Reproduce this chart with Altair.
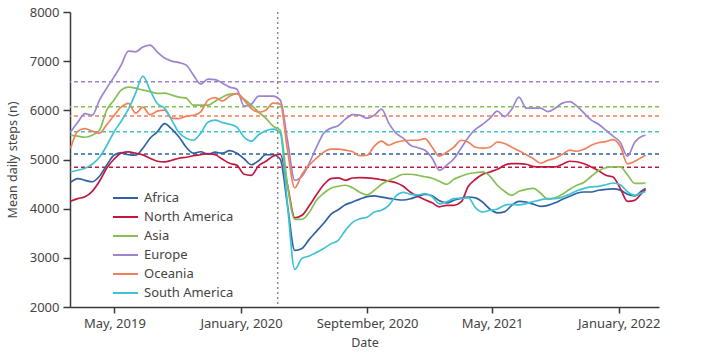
import altair as alt
import pandas as pd

# Sampling dates (every 14 days) plus last observation
dates = list(pd.date_range("2019-02-05", periods=80, freq="14D").strftime("%Y-%m-%dT00:00:00")) + ["2022-02-22T00:00:00"]

regions = ["Africa", "North America", "Asia", "Europe", "Oceania", "South America"]
colors = ["#2f62a3", "#c2183f", "#86bf55", "#9d84d0", "#f2805a", "#3fc3d2"]

africa = [4537, 4612, 4577, 4547, 4659, 4883, 5087, 5138, 5097, 5087,
          5230, 5433, 5561, 5728, 5616, 5459, 5250, 5128, 5158, 5107,
          5148, 5128, 5179, 5128, 5015, 4893, 4974, 5097, 5097, 5005,
          4068, 3152, 3192, 3376, 3539, 3702, 3885, 3977, 4079, 4136,
          4195, 4245, 4262, 4235, 4211, 4187, 4176, 4201, 4251, 4292,
          4262, 4160, 4119, 4170, 4215, 4237, 4221, 4129, 3987, 3916,
          3936, 4068, 4150, 4136, 4089, 4048, 4068, 4119, 4191, 4251,
          4313, 4339, 4339, 4374, 4394, 4404, 4378, 4292, 4262, 4364, 4414]

north_america = [4150, 4205, 4241, 4353, 4557, 4822, 5005, 5128, 5154, 5128,
                 5093, 5026, 4964, 4950, 4985, 5026, 5046, 5077, 5097, 5121,
                 5097, 5005, 4924, 4883, 4700, 4679, 4873, 4964, 5066, 5107,
                 4476, 3814, 3865, 4058, 4282, 4486, 4612, 4628, 4577, 4624,
                 4632, 4626, 4612, 4588, 4561, 4527, 4455, 4333, 4251, 4180,
                 4119, 4038, 4068, 4068, 4136, 4455, 4598, 4700, 4747, 4801,
                 4883, 4917, 4917, 4903, 4856, 4849, 4849, 4849, 4903, 4964,
                 4954, 4913, 4849, 4771, 4679, 4645, 4414, 4150, 4170, 4323, 4394]

asia = [5494, 5474, 5453, 5494, 5596, 6003, 6207, 6411, 6472, 6451,
        6411, 6380, 6343, 6350, 6309, 6268, 6248, 6105, 6105, 6105,
        6187, 6268, 6329, 6340, 6227, 6105, 5963, 5840, 5677, 5596,
        4476, 3783, 3783, 3925, 4170, 4313, 4414, 4455, 4476, 4425,
        4333, 4282, 4374, 4496, 4577, 4639, 4700, 4700, 4679, 4649,
        4618, 4557, 4496, 4598, 4659, 4710, 4730, 4747, 4659, 4476,
        4353, 4272, 4353, 4394, 4414, 4313, 4191, 4221, 4292, 4394,
        4476, 4537, 4659, 4771, 4832, 4849, 4849, 4689, 4516, 4516, 4527]

europe = [5561, 5759, 5932, 5901, 6207, 6451, 6676, 6920, 7205, 7191,
          7287, 7327, 7185, 7063, 7001, 6971, 6920, 6716, 6533, 6635,
          6625, 6553, 6472, 6431, 6085, 6126, 6288, 6288, 6288, 6207,
          5392, 4577, 4659, 4924, 5250, 5535, 5637, 5688, 5820, 5912,
          5901, 5840, 5901, 6024, 5739, 5535, 5433, 5290, 5240, 5189,
          5026, 4781, 4883, 5015, 5230, 5453, 5616, 5718, 5840, 5983,
          5871, 6024, 6268, 6044, 6044, 6044, 5973, 6044, 6146, 6176,
          6085, 5942, 5800, 5718, 5596, 5474, 5352, 5067, 5352, 5474, 5494]

oceania = [5223, 5576, 5627, 5576, 5535, 5708, 5891, 6064, 6140, 5942,
           6064, 5912, 5983, 6003, 5840, 5830, 5881, 5901, 5969, 6207,
           6258, 6187, 6288, 6340, 6207, 6034, 5963, 6003, 6146, 6126,
           5189, 4424, 4700, 4883, 5026, 5148, 5209, 5209, 5189, 5158,
           5077, 5087, 5270, 5372, 5290, 5352, 5382, 5392, 5392, 5423,
           5250, 5067, 5148, 5250, 5392, 5352, 5250, 5230, 5250, 5352,
           5325, 5250, 5179, 5097, 5015, 4924, 4985, 5026, 5107, 5189,
           5168, 5209, 5290, 5341, 5362, 5403, 5270, 4913, 4964, 5046, 5087]

south_america = [4746, 4781, 4822, 4903, 5046, 5280, 5555, 5779, 6024, 6350,
                 6696, 6411, 6140, 6044, 5800, 5545, 5433, 5392, 5535, 5759,
                 5800, 5749, 5718, 5657, 5453, 5372, 5504, 5586, 5616, 5535,
                 4068, 2765, 2988, 3039, 3111, 3192, 3284, 3355, 3559, 3722,
                 3793, 3824, 3932, 3967, 4068, 4262, 4333, 4292, 4282, 4306,
                 4241, 4099, 4140, 4204, 4211, 4221, 4017, 3932, 3967, 3993,
                 4068, 4089, 4079, 4103, 4144, 4180, 4205, 4205, 4237, 4292,
                 4364, 4414, 4445, 4455, 4486, 4522, 4486, 4343, 4272, 4323, 4343]

# Pre-pandemic baseline means (dashed lines)
baseline = [5110, 4840, 6075, 6580, 5885, 5565]

series = [africa, north_america, asia, europe, oceania, south_america]
rows = []
for r, vals in zip(regions, series):
    for d, v in zip(dates, vals):
        rows.append({"date": d, "region": r, "steps": v})
df = pd.DataFrame(rows)
base_df = pd.DataFrame({"region": regions, "steps": baseline})

FONT = "Noto Sans"
TXT = "#444444"

color_scale = alt.Scale(domain=regions, range=colors)
x_scale = alt.Scale(domain=[alt.DateTime(year=2019, month=2, date=4),
                            alt.DateTime(year=2022, month=3, date=20)])
y_scale = alt.Scale(domain=[2000, 8000], nice=False)

tick_dates = [alt.DateTime(year=2019, month=5, date=1),
              alt.DateTime(year=2020, month=1, date=1),
              alt.DateTime(year=2020, month=9, date=1),
              alt.DateTime(year=2021, month=5, date=1),
              alt.DateTime(year=2022, month=1, date=1)]

x_axis = alt.Axis(values=tick_dates, format="%B, %Y", title="Date", grid=False,
                  tickSize=6, labelPadding=4, titlePadding=6)
y_axis = alt.Axis(values=[2000, 3000, 4000, 5000, 6000, 7000, 8000], format="d",
                  title="Mean daily steps (n)",
                  grid=False, tickSize=7, labelPadding=4, titlePadding=10)

legend = alt.Legend(title=None, orient="none", legendX=42, legendY=177,
                    symbolType="stroke", symbolSize=625, symbolStrokeWidth=2,
                    labelFont=FONT, labelFontSize=13, labelColor=TXT,
                    rowPadding=0, clipHeight=18.2, labelOffset=5)
color_enc = alt.Color("region:N", scale=color_scale, sort=regions, legend=legend)

baselines = alt.Chart(base_df).mark_rule(strokeDash=[4, 3], strokeWidth=1.5).encode(
    y=alt.Y("steps:Q", scale=y_scale, axis=y_axis),
    color=color_enc,
)

vline = alt.Chart(pd.DataFrame({"d": ["2020-03-12T00:00:00"]})).mark_rule(
    color="#8c8c8c", strokeDash=[2, 3], strokeWidth=1.5
).encode(x=alt.X("d:T", scale=x_scale, axis=x_axis))

lines = alt.Chart(df).mark_line(strokeWidth=1.7, interpolate="monotone").encode(
    x=alt.X("date:T", scale=x_scale, axis=x_axis),
    y=alt.Y("steps:Q", scale=y_scale, axis=y_axis),
    color=color_enc,
)

chart = alt.layer(baselines, vline, lines).properties(
    width=589, height=295,
    padding={"left": 70, "top": 12, "right": 55, "bottom": 47},
    autosize=alt.AutoSizeParams(type="none"),
).configure_view(stroke=None).configure_axis(
    labelFont=FONT, titleFont=FONT, labelFontSize=13, titleFontSize=12.5,
    labelColor=TXT, titleColor=TXT, titleFontWeight="normal",
    domainColor="#3a3a3a", tickColor="#3a3a3a", domainWidth=1.5, tickWidth=1.5,
)

chart.save("out.html", embed_options={"renderer": "svg", "actions": False})
